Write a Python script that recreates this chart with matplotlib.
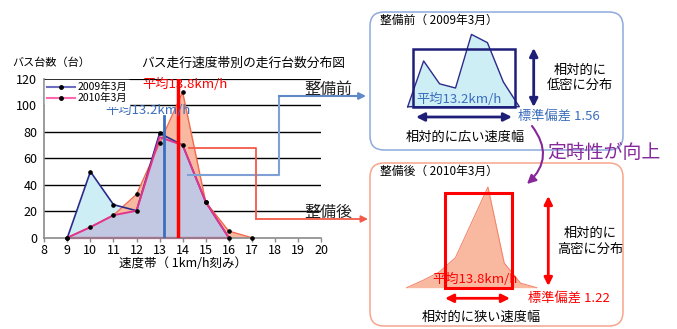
import matplotlib
matplotlib.use("Agg")
import matplotlib.pyplot as plt
from matplotlib.patches import FancyBboxPatch, Rectangle
from matplotlib.lines import Line2D

plt.rcParams['font.family'] = ['Noto Sans CJK JP', 'DejaVu Sans']

# ---- data -------------------------------------------------------------
speed_2009 = [9, 10, 11, 12, 13, 14, 15, 16]
buses_2009 = [0, 50, 25, 20.4, 79, 70, 27, 0]
speed_2010 = [9, 10, 11, 12, 13, 14, 15, 16, 17]
buses_2010 = [0, 8, 17, 32.8, 71.4, 110, 27, 5, 0]
speed_common = [9, 10, 11, 12, 13, 14, 15, 16]
buses_common = [0, 8, 17, 20.4, 76, 70, 27, 0]
mean_2009 = 13.2
mean_2010 = 13.8
std_2009 = 1.56
std_2010 = 1.22
x_ticks = list(range(8, 21))
y_ticks = list(range(0, 121, 20))
series_labels = ['2009年3月', '2010年3月']

# ---- colours ----------------------------------------------------------
C_LIGHTBLUE = '#CDEEF5'
C_ORANGE = '#F9B9A0'
C_ORANGE_EDGE = '#F26A4F'
C_LAVENDER = '#C3C8E2'
C_NAVY = '#2B2B8C'
C_PINK = '#E2348C'
C_BLUE_TXT = '#3C6EBE'
C_ARROW_NAVY = '#1F1F7A'
C_PURPLE = '#86279A'

W, H = 677, 329
fig = plt.figure(figsize=(W / 100, H / 100), dpi=100)


def frac(x0, y0, x1, y1):
    """pixel box (top-left origin) -> figure-fraction rect"""
    return [x0 / W, 1 - y1 / H, (x1 - x0) / W, (y1 - y0) / H]


# ---- main distribution chart -----------------------------------------
ax = fig.add_axes(frac(44.3, 79, 321, 237.7))
ax.set_xlim(8, 20)
ax.set_ylim(0, 120)

for y in y_ticks[1:]:
    ax.axhline(y, color='black', lw=1.6 if y == 120 else 1.0, zorder=0.5)

ax.fill_between(speed_2009, buses_2009, color=C_LIGHTBLUE, lw=0, zorder=1)
ax.fill_between(speed_2010, buses_2010, color=C_ORANGE, lw=0, zorder=1.1)
ax.fill_between(speed_common, buses_common, color=C_LAVENDER, lw=0, zorder=1.2)

ax.plot(speed_2010, buses_2010, color=C_ORANGE_EDGE, lw=1.0, zorder=2)
ax.plot(speed_2009, buses_2009, color=C_NAVY, lw=1.2, zorder=2.1)
ax.plot(speed_common, buses_common, color=C_PINK, lw=1.4, zorder=2.2)
ax.plot([speed_common[0], speed_common[-1]], [0, 0], color=C_PINK, lw=1.6,
        zorder=2.2, clip_on=False)

ax.plot(speed_2009, buses_2009, 'o', ms=2.3, color='black', zorder=3, clip_on=False)
ax.plot(speed_2010, buses_2010, 'o', ms=2.3, color='black', zorder=3, clip_on=False)

ax.plot([mean_2009, mean_2009], [0, 92], color=C_BLUE_TXT, lw=2, zorder=4)
ax.plot([mean_2010, mean_2010], [0, 120], color='red', lw=2.5, zorder=4)
ax.text(14.1, 116, f'平均{mean_2010}km/h', color='red', fontsize=9.5,
        ha='center', va='center', zorder=5)
ax.text(12.5, 96, f'平均{mean_2009}km/h', color=C_BLUE_TXT, fontsize=9.5,
        ha='center', va='center', zorder=5)

for side in ('top', 'right'):
    ax.spines[side].set_visible(False)
for side in ('left', 'bottom'):
    ax.spines[side].set_color('#8A8A8A')
    ax.spines[side].set_linewidth(1.2)
ax.set_xticks(x_ticks)
ax.set_yticks(y_ticks)
ax.tick_params(axis='x', length=3, width=1, color='#8A8A8A', pad=1.5, labelsize=9)
ax.tick_params(axis='y', length=0, pad=5, labelsize=9)
ax.set_xlabel('速度帯（ 1km/h刻み）', fontsize=9, labelpad=0)

handles = [
    Line2D([], [], color='#6E6EC0', lw=1.5, marker='o', ms=2.5, mfc='black', mec='black'),
    Line2D([], [], color='#FF6AAE', lw=1.5, marker='o', ms=2.5, mfc='black', mec='black'),
]
leg = ax.legend(handles, series_labels, loc='upper left', bbox_to_anchor=(0, 1),
                borderaxespad=0.1, fontsize=7.5, handlelength=2.6, handletextpad=0.3,
                labelspacing=0.1, borderpad=0.2, frameon=True, fancybox=False)
leg.get_frame().set_edgecolor('white')
leg.get_frame().set_alpha(1)

# ---- schematic mini charts in the side panels --------------------------
ax_before = fig.add_axes(frac(407.7, 106.7 - 80, 519.3, 106.7), zorder=5)
ax_before.set_xlim(9, 16)
ax_before.set_ylim(0, 80 / 0.915)
ax_before.fill_between(speed_2009, buses_2009, color=C_LIGHTBLUE, lw=0)
ax_before.plot(speed_2009 + [speed_2009[0]], buses_2009 + [0], color=C_NAVY,
               lw=1.0, clip_on=False)
ax_before.axis('off')

ax_after = fig.add_axes(frac(406.7, 287.7 - 115, 536.7, 287.7), zorder=5)
ax_after.set_xlim(9, 17)
ax_after.set_ylim(0, 115 / 0.915)
ax_after.fill_between(speed_2010, buses_2010, color=C_ORANGE, lw=0)
ax_after.plot(speed_2010, buses_2010, color='#F4876C', lw=0.8, clip_on=False)
ax_after.axis('off')

# ---- annotation layer (pixel coordinates) ------------------------------
ov = fig.add_axes([0, 0, 1, 1], zorder=10)
ov.set_xlim(0, W)
ov.set_ylim(H, 0)
ov.axis('off')

ov.text(12, 63, 'バス台数（台）', fontsize=8, ha='left', va='center')
ov.text(243.5, 63, 'バス走行速度帯別の走行台数分布図', fontsize=9.2,
        ha='center', va='center')

# connectors from the chart to the panels
ov.plot([188, 279, 279], [175, 175, 96], color='#7FA0D4', lw=1.5)
ov.annotate('', xy=(366, 96), xytext=(279, 96),
            arrowprops=dict(arrowstyle='-|>', color='#5F88C8', lw=1.5,
                            mutation_scale=10, shrinkA=0, shrinkB=0))
ov.plot([189, 256, 256], [148, 148, 219], color='#F25B4A', lw=1.3)
ov.annotate('', xy=(368, 219), xytext=(256, 219),
            arrowprops=dict(arrowstyle='-|>', color='#F25B4A', lw=1.3,
                            mutation_scale=10, shrinkA=0, shrinkB=0))
ov.text(328, 89, '整備前', fontsize=11.5, ha='center', va='center', color='#222222')
ov.text(328, 212, '整備後', fontsize=11.5, ha='center', va='center', color='#222222')

# panel frames
ov.add_patch(FancyBboxPatch((370, 12), 253, 138,
                            boxstyle='round,pad=0,rounding_size=14',
                            fc='none', ec='#8EA9DB', lw=1.1))
ov.add_patch(FancyBboxPatch((370, 163), 253, 163,
                            boxstyle='round,pad=0,rounding_size=14',
                            fc='none', ec='#F7A68C', lw=1.1))

# before panel
ov.text(380, 20, '整備前（ 2009年3月）', fontsize=8.5, ha='left', va='center')
ov.add_patch(Rectangle((413.3, 49.3), 101.7, 57.4, fill=False,
                       ec=C_ARROW_NAVY, lw=1.8))
ov.text(459, 99, f'平均{mean_2009}km/h', color=C_BLUE_TXT, fontsize=9.5,
        ha='center', va='center')
ov.annotate('', xy=(533.7, 48), xytext=(533.7, 107),
            arrowprops=dict(arrowstyle='<|-|>', color=C_ARROW_NAVY, lw=2,
                            mutation_scale=12, shrinkA=0, shrinkB=0))
ov.annotate('', xy=(416, 117), xytext=(512, 117),
            arrowprops=dict(arrowstyle='<|-|>', color=C_ARROW_NAVY, lw=2,
                            mutation_scale=12, shrinkA=0, shrinkB=0))
ov.text(580, 78, '相対的に\n低密に分布', fontsize=9.5, ha='center', va='center',
        linespacing=1.25)
ov.text(518, 117, f'標準偏差 {std_2009}', color=C_BLUE_TXT, fontsize=9.5,
        ha='left', va='center')
ov.text(465, 137.7, '相対的に広い速度幅', fontsize=9.5, ha='center', va='center')

# after panel
ov.text(380, 171, '整備後（ 2010年3月）', fontsize=8.5, ha='left', va='center')
ov.add_patch(Rectangle((445, 193.3), 66.7, 94.4, fill=False, ec='red', lw=2.2))
ov.text(475, 279, f'平均{mean_2010}km/h', color='red', fontsize=9.5,
        ha='center', va='center')
ov.annotate('', xy=(548.3, 196), xytext=(548.3, 286),
            arrowprops=dict(arrowstyle='<|-|>', color='red', lw=2,
                            mutation_scale=12, shrinkA=0, shrinkB=0))
ov.annotate('', xy=(445, 298.3), xytext=(510, 298.3),
            arrowprops=dict(arrowstyle='<|-|>', color='red', lw=2,
                            mutation_scale=12, shrinkA=0, shrinkB=0))
ov.text(590, 241.5, '相対的に\n高密に分布', fontsize=9.5, ha='center', va='center',
        linespacing=1.25)
ov.text(528, 299, f'標準偏差 {std_2010}', color='red', fontsize=9.5,
        ha='left', va='center')
ov.text(481.7, 317.3, '相対的に狭い速度幅', fontsize=9.5, ha='center', va='center')

# improvement note
ov.annotate('', xy=(527, 184), xytext=(532, 126),
            arrowprops=dict(arrowstyle='-|>', color=C_PURPLE, lw=1.5,
                            mutation_scale=13, shrinkA=0, shrinkB=0,
                            connectionstyle='arc3,rad=-0.45'))
ov.text(547, 153, '定時性が向上', fontsize=13.6, color=C_PURPLE, ha='left', va='center')

fig.savefig('out.png', dpi=100)
